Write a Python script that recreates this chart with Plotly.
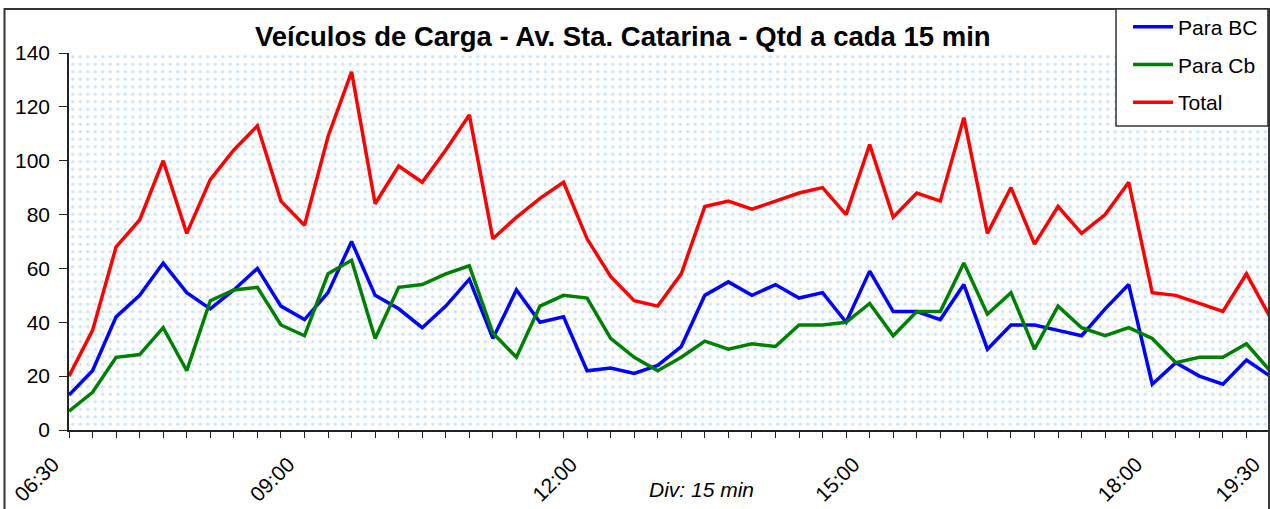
import plotly.graph_objects as go

# 15 min intervals, 06:30 .. 19:15 (last one sits on the right edge)
times = ['{:02d}:{:02d}'.format(6 + (30 + 15 * i) // 60, (30 + 15 * i) % 60) for i in range(52)]

para_bc = [13, 22, 42, 50, 62, 51, 45, 52, 60, 46, 41, 51, 70, 50, 45, 38, 46, 56, 34, 52,
           40, 42, 22, 23, 21, 24, 31, 50, 55, 50, 54, 49, 51, 40, 59, 44, 44, 41, 54, 30,
           39, 39, 37, 35, 45, 54, 17, 25, 20, 17, 26, 20]
para_cb = [7, 14, 27, 28, 38, 22, 48, 52, 53, 39, 35, 58, 63, 34, 53, 54, 58, 61, 36, 27,
           46, 50, 49, 34, 27, 22, 27, 33, 30, 32, 31, 39, 39, 40, 47, 35, 44, 44, 62, 43,
           51, 30, 46, 38, 35, 38, 34, 25, 27, 27, 32, 22]
total = [20, 37, 68, 78, 100, 73, 93, 104, 113, 85, 76, 109, 133, 84, 98, 92, 104, 117, 71, 79,
         86, 92, 71, 57, 48, 46, 58, 83, 85, 82, 85, 88, 90, 80, 106, 79, 88, 85, 116, 73,
         90, 69, 83, 73, 80, 92, 51, 50, 47, 44, 58, 42]

tick_labels = {'06:30': '06:30', '09:00': '09:00', '12:00': '12:00', '15:00': '15:00',
               '18:00': '18:00', '19:15': '19:30'}
y_max = 140

font = 'Liberation Sans, Arial, sans-serif'
x = list(range(len(times)))

fig = go.Figure()

# dotted plot-area background (Excel pattern fill)
n = len(times) - 1
fig.add_trace(go.Scatter(x=[0, n, n, 0, 0], y=[0, 0, y_max, y_max, 0],
                         mode='none', fill='toself', showlegend=False, hoverinfo='skip',
                         fillcolor='white',
                         fillpattern=dict(shape='.', fgcolor='#8cc6ff', bgcolor='white',
                                          size=7.5, solidity=0.16)))

series = [('Para BC', para_bc, '#0000ff'),
          ('Para Cb', para_cb, '#008000'),
          ('Total', total, '#ff0000')]
for name, vals, color in series:
    fig.add_trace(go.Scatter(x=x, y=vals, name=name, mode='lines', legendgroup=name,
                             line=dict(color=color, width=3.5)))

ticktext = [tick_labels.get(t, '') for t in times]

fig.update_layout(
    width=1270, height=509,
    margin=dict(l=69, r=0, t=53, b=79, autoexpand=False),
    paper_bgcolor='white', plot_bgcolor='white',
    font=dict(family=font, size=21, color='black'),
    showlegend=True,
    legend=dict(x=0.8818, xanchor='left', y=1.1234, yanchor='top',
                bgcolor='rgba(0,0,0,0)', borderwidth=0,
                font=dict(size=21), tracegroupgap=7.5, traceorder='grouped',
                itemwidth=40),
    xaxis=dict(range=[0, n], tickmode='array', tickvals=x, ticktext=ticktext,
               tickangle=-45, ticks='outside', ticklen=6, tickcolor='#222',
               showline=True, linecolor='#222', linewidth=1.5, automargin=False,
               ticklabelshift=-16, ticklabelstandoff=6, ticklabeloverflow='allow',
               showgrid=False, zeroline=False, tickfont=dict(size=21)),
    yaxis=dict(range=[0, y_max], dtick=20, ticks='outside', ticklen=8, tickcolor='#222',
               showline=True, linecolor='#222', linewidth=1.5, automargin=False,
               ticklabelstandoff=5,
               showgrid=True, gridcolor='#c0c0c0', griddash='8px,4px', gridwidth=1,
               zeroline=False, tickfont=dict(size=21)),
    shapes=[
        # chart border
        dict(type='rect', xref='paper', yref='paper', x0=-0.0537, x1=0.9992,
             y0=-0.3, y1=1.1167, line=dict(color='#333333', width=2), layer='above'),
        # legend box
        dict(type='rect', xref='paper', yref='paper', x0=0.8718, x1=0.9983,
             y0=0.8064, y1=1.1167, fillcolor='white',
             line=dict(color='#333333', width=1.5), layer='above'),
    ],
    annotations=[
        dict(text='<b>Veículos de Carga - Av. Sta. Catarina - Qtd a cada 15 min</b>',
             xref='paper', yref='paper', x=0.4613, y=1.045, xanchor='center', yanchor='middle',
             showarrow=False, font=dict(size=27.5)),
        dict(text='<i>Div: 15 min</i>', xref='paper', yref='paper', x=0.527, y=-0.159,
             xanchor='center', yanchor='middle', showarrow=False, font=dict(size=21)),
    ],
)

# page body has an 8px default margin; drop it so the figure fills the window
fig.write_html('out.html', config={'displayModeBar': False},
               post_script="document.body.style.margin='0';")
